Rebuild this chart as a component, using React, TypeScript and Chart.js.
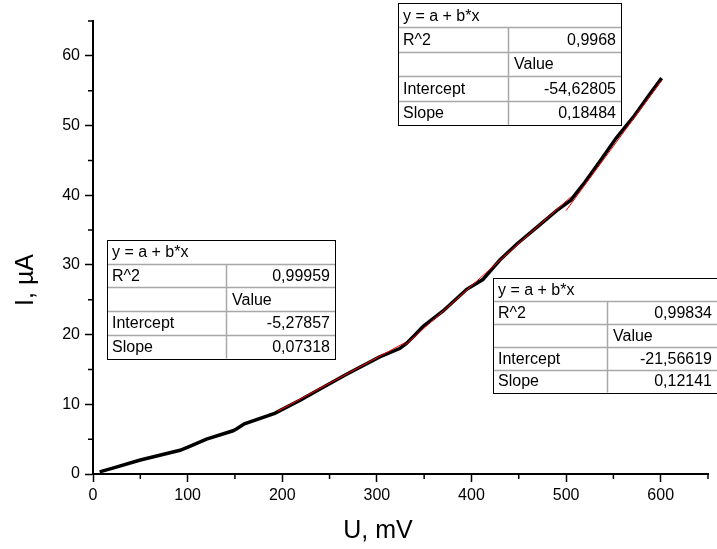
import React, { useEffect, useRef } from "react";
import { Chart, registerables } from "chart.js";

Chart.register(...registerables);

// Measured I-U curve (black)
const voltageMV = [7, 20, 50, 92, 101, 120, 148, 152, 160, 192, 219, 240, 268, 303, 324, 331, 340, 349, 370, 395, 412, 430, 448, 469, 490, 505, 520, 536, 553, 571, 588, 601];
const currentUA = [0.3, 0.8, 2.0, 3.4, 3.9, 5.0, 6.2, 6.5, 7.2, 8.7, 10.6, 12.2, 14.3, 16.8, 18.0, 18.7, 19.9, 21.2, 23.4, 26.5, 27.9, 30.7, 33.0, 35.4, 37.8, 39.3, 41.9, 44.9, 48.2, 51.2, 54.4, 56.8];

// Linear fit lines (red), end points
const fitLowU = [195, 330];
const fitLowI = [8.99, 18.87];
const fitMidU = [330, 505];
const fitMidI = [18.5, 39.75];
const fitHighU = [500, 601];
const fitHighI = [37.79, 56.46];

// Fit result tables
const fitEquation = "y = a + b*x";
const fitR2 = ["0,99959", "0,99834", "0,9968"];
const fitIntercept = ["-5,27857", "-21,56619", "-54,62805"];
const fitSlope = ["0,07318", "0,12141", "0,18484"];

// Axes
const xMajorTicks = [0, 100, 200, 300, 400, 500, 600];
const xMinorTicks = [50, 150, 250, 350, 450, 550, 650];
const yMajorTicks = [0, 10, 20, 30, 40, 50, 60];
const yMinorTicks = [5, 15, 25, 35, 45, 55, 65];
const xTitle = "U, mV";
const yTitle = "I, µA";

const FONT = "'Liberation Sans', Arial, sans-serif";

function toPoints(xs: number[], ys: number[]) {
  return xs.map((x, i) => ({ x, y: ys[i] }));
}

function drawTable(
  ctx: CanvasRenderingContext2D,
  left: number,
  top: number,
  width: number,
  rowH: number,
  split: number,
  idx: number
) {
  const h = rowH * 5;
  ctx.save();
  ctx.fillStyle = "#ffffff";
  ctx.fillRect(left, top, width, h);
  ctx.strokeStyle = "#a8a8a8";
  ctx.lineWidth = 1.5;
  ctx.beginPath();
  for (let i = 1; i < 5; i++) {
    const y = Math.round(top + i * rowH) + 0.5;
    ctx.moveTo(left, y);
    ctx.lineTo(left + width, y);
  }
  ctx.moveTo(left + split + 0.5, top + rowH);
  ctx.lineTo(left + split + 0.5, top + h);
  ctx.stroke();
  ctx.strokeStyle = "#000000";
  ctx.lineWidth = 1;
  ctx.strokeRect(Math.round(left) + 0.5, Math.round(top) + 0.5, Math.round(width), Math.round(h));

  ctx.fillStyle = "#000000";
  ctx.font = `16px ${FONT}`;
  ctx.textBaseline = "middle";
  const cy = (r: number) => top + rowH * r + rowH / 2 + 1;
  ctx.textAlign = "left";
  ctx.fillText(fitEquation, left + 5, cy(0));
  ctx.fillText("R^2", left + 5, cy(1));
  ctx.fillText("Intercept", left + 5, cy(3));
  ctx.fillText("Slope", left + 5, cy(4));
  ctx.fillText("Value", left + split + 6, cy(2));
  ctx.textAlign = "right";
  ctx.fillText(fitR2[idx], left + width - 5, cy(1));
  ctx.fillText(fitIntercept[idx], left + width - 5, cy(3));
  ctx.fillText(fitSlope[idx], left + width - 5, cy(4));
  ctx.restore();
}

const decorPlugin = {
  id: "decor",
  afterDraw(chart: any) {
    const ctx: CanvasRenderingContext2D = chart.ctx;
    const xs = chart.scales.x;
    const ys = chart.scales.y;
    ctx.save();
    ctx.strokeStyle = "#000";
    ctx.lineWidth = 1.5;
    ctx.beginPath();
    xMinorTicks.forEach((v) => {
      const px = xs.getPixelForValue(v);
      ctx.moveTo(px, ys.bottom);
      ctx.lineTo(px, ys.bottom + 5);
    });
    yMinorTicks.forEach((v) => {
      const py = ys.getPixelForValue(v);
      ctx.moveTo(xs.left, py);
      ctx.lineTo(xs.left - 5, py);
    });
    ctx.stroke();

    // axis titles
    ctx.fillStyle = "#000";
    ctx.font = `25px ${FONT}`;
    ctx.textAlign = "center";
    ctx.textBaseline = "middle";
    ctx.fillText(xTitle, 378, 531);
    ctx.translate(26, 280);
    ctx.rotate(-Math.PI / 2);
    ctx.fillText(yTitle, 0, 0);
    ctx.restore();

    // fit tables
    drawTable(ctx, 107, 240, 228, 23.7, 119, 0);
    drawTable(ctx, 493, 278, 224, 22.9, 114, 1);
    drawTable(ctx, 398, 3, 223, 24.4, 110, 2);
  },
};

export default function App() {
  const canvasRef = useRef<HTMLCanvasElement | null>(null);

  useEffect(() => {
    const canvas = canvasRef.current;
    if (!canvas) return;
    const chart = new Chart(canvas, {
      type: "scatter",
      data: {
        datasets: [
          {
            label: "fit 1",
            data: toPoints(fitLowU, fitLowI),
            showLine: true,
            borderColor: "#ff0000",
            borderWidth: 1,
            pointRadius: 0,
          },
          {
            label: "fit 2",
            data: toPoints(fitMidU, fitMidI),
            showLine: true,
            borderColor: "#ff0000",
            borderWidth: 1,
            pointRadius: 0,
          },
          {
            label: "fit 3",
            data: toPoints(fitHighU, fitHighI),
            showLine: true,
            borderColor: "#ff0000",
            borderWidth: 1,
            pointRadius: 0,
          },
          {
            label: "I(U)",
            data: toPoints(voltageMV, currentUA),
            showLine: true,
            borderColor: "#000000",
            borderWidth: 3.5,
            pointRadius: 0,
            tension: 0,
          },
        ],
      },
      options: {
        animation: false,
        responsive: false,
        devicePixelRatio: 1,
        layout: { padding: { top: 21, right: 9, left: 0, bottom: 0 } },
        plugins: {
          legend: { display: false },
          tooltip: { enabled: false },
        },
        scales: {
          x: {
            type: "linear",
            min: 0,
            max: 650,
            afterFit: (s: any) => {
              s.height = 75;
            },
            afterBuildTicks: (s: any) => {
              s.ticks = xMajorTicks.map((v) => ({ value: v }));
            },
            ticks: {
              color: "#000",
              font: { family: FONT, size: 16 },
              padding: 4,
              maxRotation: 0,
              autoSkip: false,
            },
            grid: {
              display: true,
              drawOnChartArea: false,
              drawTicks: true,
              tickLength: 8,
              tickColor: "#000",
              tickWidth: 1.5,
            },
            border: { display: true, color: "#000", width: 2 },
          },
          y: {
            type: "linear",
            min: 0,
            max: 65,
            afterFit: (s: any) => {
              s.width = 93;
            },
            afterBuildTicks: (s: any) => {
              s.ticks = yMajorTicks.map((v) => ({ value: v }));
            },
            ticks: {
              color: "#000",
              font: { family: FONT, size: 16 },
              padding: 5,
              autoSkip: false,
            },
            grid: {
              display: true,
              drawOnChartArea: false,
              drawTicks: true,
              tickLength: 8,
              tickColor: "#000",
              tickWidth: 1.5,
            },
            border: { display: true, color: "#000", width: 2 },
          },
        },
      },
      plugins: [decorPlugin],
    });
    return () => chart.destroy();
  }, []);

  return (
    <div style={{ position: "absolute", left: 0, top: 0, width: 717, height: 549, background: "#fff" }}>
      <canvas ref={canvasRef} width={717} height={549} style={{ display: "block", width: 717, height: 549 }} />
    </div>
  );
}
